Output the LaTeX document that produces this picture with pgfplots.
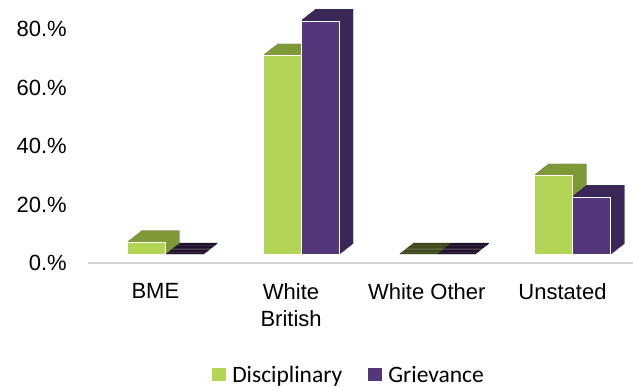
\documentclass[border=0pt]{standalone}
\usepackage{pgfplots}
\usepackage{pgfplotstable}
\pgfplotsset{compat=1.18}
\usepackage{fontspec}
\setmainfont{Liberation Sans}
\newfontfamily\calibri{Carlito}
\definecolor{dfront}{RGB}{179,213,86}
\definecolor{dshadow}{RGB}{128,153,56}
\definecolor{ddark}{RGB}{47,58,20}
\definecolor{gfront}{RGB}{83,55,122}
\definecolor{gshadow}{RGB}{58,39,87}
\definecolor{gdark}{RGB}{26,14,36}
\pgfplotstableread{
x d g
0 4.2 0
1 68.1 80.0
2 0 0
3 27.1 19.8
}\data
\begin{document}
\begin{tikzpicture}
\begin{axis}[
  scale only axis, width=545pt, height=263pt,
  xmin=-0.57, xmax=3.446, ymin=0, ymax=90,
  separate axis lines,
  axis x line*=bottom, axis y line*=left,
  y axis line style={draw=none},
  x axis line style={draw=gray!35, line width=1.5pt, -},
  major tick length=0pt,
  xtick={0,1,2,3},
  xticklabels={BME,{White\\British},White Other,Unstated},
  ytick={0,20,40,60,80},
  yticklabels={0.\%,20.\%,40.\%,60.\%,80.\%},
  xticklabel style={font=\fontsize{22}{27}\selectfont, align=center, inner sep=0pt, anchor=north, yshift=-20pt, xshift=-10pt},
  yticklabel style={font=\fontsize{22}{27}\selectfont, inner sep=0pt, anchor=east, xshift=-21pt},
  legend style={at={(0.479,-0.426)}, anchor=center, draw=none, fill=none,
    legend columns=2, font=\calibri\fontsize{23.5}{28}\selectfont,
    /tikz/every odd column/.append style={column sep=4pt},
    /tikz/every even column/.append style={column sep=24pt}},
  legend image code/.code={\fill[#1, draw=none, yshift=-8pt] (0pt,-6pt) rectangle (14pt,7.5pt);},
  bar width=38pt,
]
% Disciplinary: dark flat top (visible only where the value is zero)
\pgfplotsinvokeforeach{14,13,12,11,10,9,8,7,6,5,4,3,2,1}{
  \addplot[ybar, bar shift=-19pt, fill=ddark, draw=none, xshift=#1*1pt, yshift=8pt+#1*0.786pt, forget plot] table[x=x, y expr=\thisrow{d}+0.35] {\data};
}
% Disciplinary depth layers
\pgfplotsinvokeforeach{14,13,12,11,10,9,8,7,6,5,4,3,2,1}{
  \addplot[ybar, bar shift=-19pt, fill=dshadow, draw=none, xshift=#1*1pt, yshift=8pt+#1*0.786pt, forget plot] table[x=x, y expr={\thisrow{d}>0 ? \thisrow{d}+0.35 : 0}] {\data};
}
\addplot[ybar, bar shift=-19pt, fill=dfront, draw=white, line width=1pt, yshift=8pt] table[x=x, y=d] {\data};
\addlegendentry{Disciplinary}
% Grievance: dark flat top
\pgfplotsinvokeforeach{14,13,12,11,10,9,8,7,6,5,4,3,2,1}{
  \addplot[ybar, bar shift=19pt, fill=gdark, draw=none, xshift=#1*1pt, yshift=8pt+#1*0.786pt, forget plot] table[x=x, y expr=\thisrow{g}+0.35] {\data};
}
% Grievance depth layers
\pgfplotsinvokeforeach{14,13,12,11,10,9,8,7,6,5,4,3,2,1}{
  \addplot[ybar, bar shift=19pt, fill=gshadow, draw=none, xshift=#1*1pt, yshift=8pt+#1*0.786pt, forget plot] table[x=x, y expr={\thisrow{g}>0 ? \thisrow{g}+0.35 : 0}] {\data};
}
\addplot[ybar, bar shift=19pt, fill=gfront, draw=white, line width=1pt, yshift=8pt] table[x=x, y=g] {\data};
\addlegendentry{Grievance}
\end{axis}
\pgfresetboundingbox
\path ([xshift=-88pt,yshift=-124pt]current axis.south west) rectangle (current axis.north east);
\end{tikzpicture}
\end{document}
